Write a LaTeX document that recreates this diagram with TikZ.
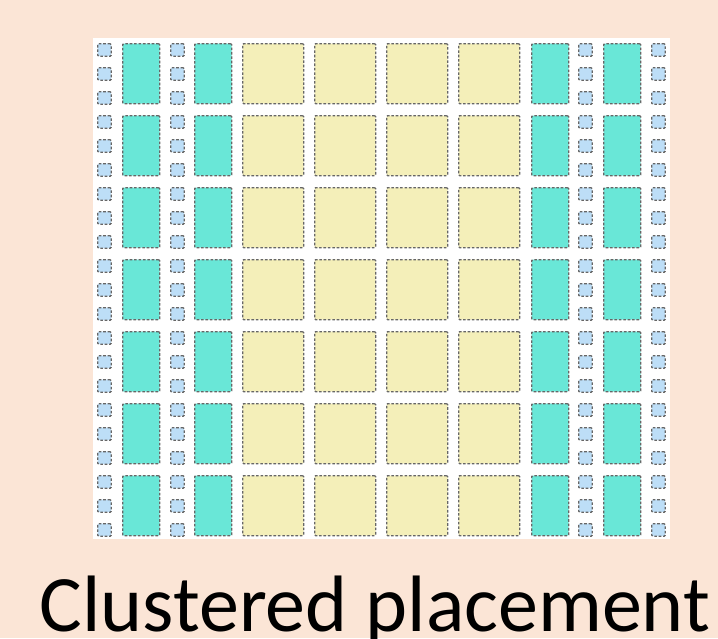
\documentclass[tikz,border=0pt]{standalone}
\usepackage{fontspec}
\setmainfont{Carlito}
\usepackage{xcolor}
\usetikzlibrary{positioning}

\definecolor{peach}{HTML}{FBE5D6}
\definecolor{cellteal}{HTML}{69E7D7}
\definecolor{cellyellow}{HTML}{F4EFB9}
\definecolor{cellblue}{HTML}{BDDEF7}
\definecolor{dashgray}{HTML}{666666}

\begin{document}
\begin{tikzpicture}[x=1pt, y=-1pt,
  cell/.style={draw=dashgray, dash pattern=on 2.6pt off 1.8pt, line width=1.4pt,
    rounded corners=1pt, inner sep=0pt, anchor=north west},
  pad/.style={cell, fill=cellblue, minimum width=13.5pt, minimum height=12.5pt},
  macro/.style={cell, fill=cellteal, minimum width=37pt, minimum height=60pt},
  core/.style={cell, fill=cellyellow, minimum width=61pt, minimum height=60pt}
]
\useasboundingbox (0,0) rectangle (718,638);
\fill[peach] (0,0) rectangle (718,638);
\fill[white] (93,38) rectangle (670,539);
% seven rows of blocks
\foreach \r in {0,...,6} {
  \pgfmathsetmacro{\ytop}{43+72*\r}
  \foreach \x [count=\c] in {97,170,578,651} {
    \foreach \k in {0,1,2}
      \node[pad] (pad-\r-\c-\k) at (\x,\ytop+24*\k) {};
  }
  \foreach \x [count=\c] in {122,194,531,603}
    \node[macro] (macro-\r-\c) at (\x,\ytop) {};
  \foreach \x [count=\c] in {242,314,386,458}
    \node[core] (core-\r-\c) at (\x,\ytop) {};
}
\node[font=\fontsize{80}{86}\selectfont, anchor=base, inner sep=0pt] (title)
  at (375,631) {Clustered placement};
\end{tikzpicture}
\end{document}
